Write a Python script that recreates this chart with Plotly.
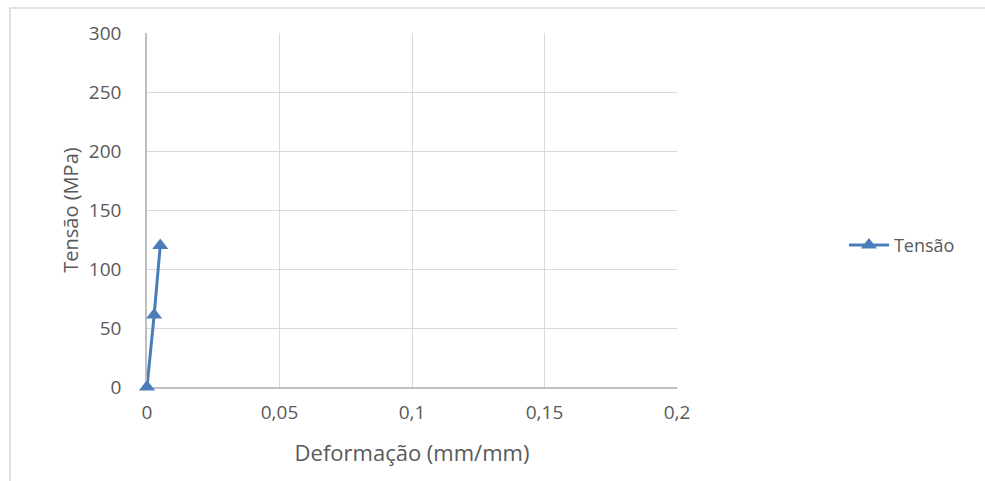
import plotly.graph_objects as go

deformacao = [0, 0.0027, 0.005]
tensao = [0, 61, 120]
series_name = "Tensão"
x_ticks = [0, 0.05, 0.1, 0.15, 0.2]
x_tick_labels = ["0", "0,05", "0,1", "0,15", "0,2"]
y_ticks = [0, 50, 100, 150, 200, 250, 300]

fig = go.Figure()
fig.add_trace(go.Scatter(
    x=deformacao, y=tensao, name=series_name, mode="lines+markers",
    line=dict(color="#4A7EBB", width=3),
    marker=dict(symbol="triangle-up", size=14, color="#4A7EBB"),
    cliponaxis=False,
))

font_family = "'Open Sans', sans-serif"
fig.update_layout(
    width=985, height=481,
    margin=dict(l=147, r=308, t=33, b=94),
    paper_bgcolor="white", plot_bgcolor="white",
    font=dict(family=font_family, color="#595959", size=18),
    showlegend=True,
    legend=dict(x=1.315, y=0.40, xanchor="left", yanchor="middle",
                font=dict(size=18, color="#595959"), itemwidth=40),
    xaxis=dict(range=[0, 0.2], tickvals=x_ticks, ticktext=x_tick_labels,
               showgrid=True, gridcolor="#D9D9D9", gridwidth=1,
               showline=True, linecolor="#BFBFBF", linewidth=1.5,
               zeroline=False, ticks="", ticklen=0, ticklabelstandoff=7,
               layer="below traces",
               tickfont=dict(size=19, color="#595959"),
               title=dict(text="Deformação (mm/mm)", font=dict(size=22, color="#595959"), standoff=22)),
    yaxis=dict(range=[0, 300], tickvals=y_ticks,
               showgrid=True, gridcolor="#D9D9D9", gridwidth=1,
               showline=True, linecolor="#BFBFBF", linewidth=1.5,
               zeroline=False, ticks="", ticklen=0, ticklabelstandoff=20,
               layer="below traces",
               tickfont=dict(size=19, color="#595959"),
               title=dict(text="Tensão (MPa)", font=dict(size=20, color="#595959"), standoff=5)),
    shapes=[dict(type="rect", xref="paper", yref="paper",
                 x0=-0.2585, y0=-1.0, x1=2.0, y1=1.0706,
                 line=dict(color="#D9D9D9", width=1.5), layer="below")],
)

fig.write_html("out.html")
